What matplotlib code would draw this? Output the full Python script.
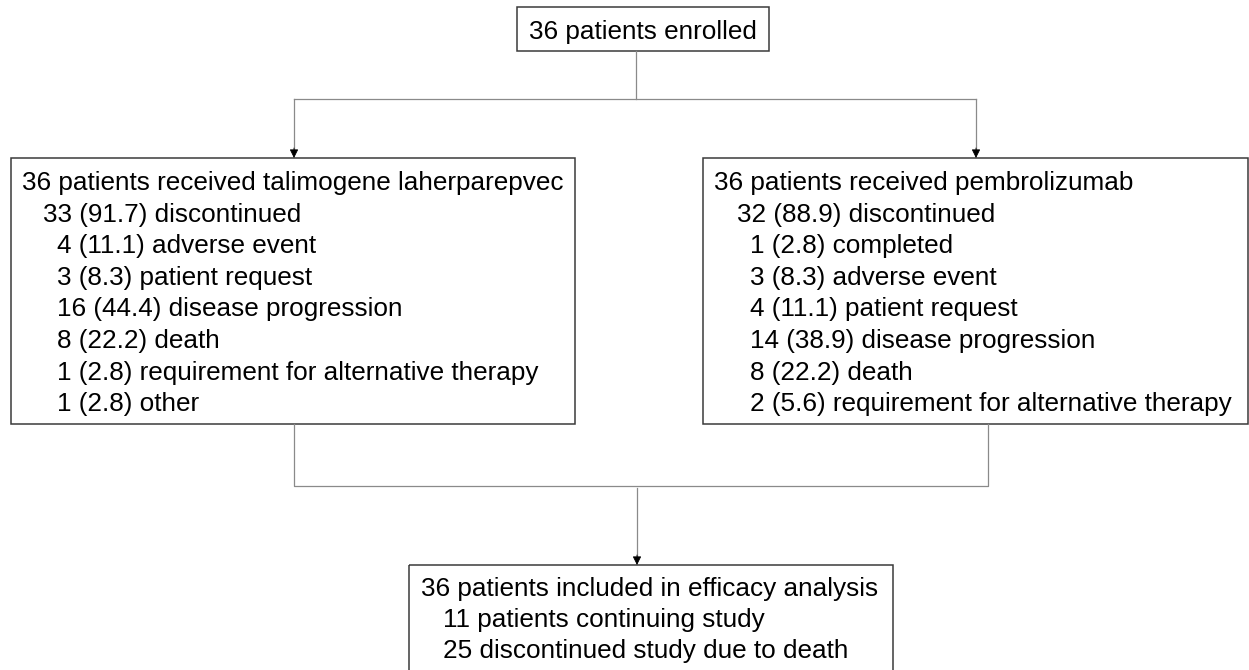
import matplotlib
matplotlib.use("Agg")
import matplotlib.pyplot as plt
from matplotlib.patches import Rectangle

# texte des boites (niveau d'indentation a part)
enrolled_text = "36 patients enrolled"

tvec_lines = [
    "36 patients received talimogene laherparepvec",
    "33 (91.7) discontinued",
    "4 (11.1) adverse event",
    "3 (8.3) patient request",
    "16 (44.4) disease progression",
    "8 (22.2) death",
    "1 (2.8) requirement for alternative therapy",
    "1 (2.8) other",
]
tvec_levels = [0, 1, 2, 2, 2, 2, 2, 2]

pembro_lines = [
    "36 patients received pembrolizumab",
    "32 (88.9) discontinued",
    "1 (2.8) completed",
    "3 (8.3) adverse event",
    "4 (11.1) patient request",
    "14 (38.9) disease progression",
    "8 (22.2) death",
    "2 (5.6) requirement for alternative therapy",
]
pembro_levels = [0, 1, 2, 2, 2, 2, 2, 2]

efficacy_lines = [
    "36 patients included in efficacy analysis",
    "11 patients continuing study",
    "25 discontinued study due to death",
]
efficacy_levels = [0, 1, 1]

plt.rcParams["font.family"] = ["Liberation Sans", "DejaVu Sans"]
FS = 18.8
BOX_COL = "#3a3a3a"
LINE_COL = "#8a8a8a"

fig = plt.figure(figsize=(12.49, 6.70), dpi=100)
ax = fig.add_axes([0, 0, 1, 1])
ax.set_xlim(0, 1249)
ax.set_ylim(670, 0)
ax.axis("off")


def boite(x0, y0, x1, y1):
    ax.add_patch(Rectangle((x0, y0), x1 - x0, y1 - y0, fill=False,
                           edgecolor=BOX_COL, linewidth=1.1, clip_on=True))


def texte(lines, levels, x0, y_base, step, indents):
    for i, (s, lv) in enumerate(zip(lines, levels)):
        ax.text(x0 + indents[lv], y_base + i * step, s, fontsize=FS,
                va="baseline", ha="left", color="black")


def fleche(x, y0, y1):
    ax.plot([x, x], [y0, y1 - 8], color=LINE_COL, lw=0.9)
    ax.annotate("", xy=(x, y1), xytext=(x, y1 - 10),
                arrowprops=dict(arrowstyle="-|>", color="black", lw=0.6,
                                mutation_scale=13, shrinkA=0, shrinkB=0))


# boite du haut
boite(517, 7, 769, 51)
ax.text(643, 39, enrolled_text, fontsize=FS, ha="center", va="baseline")

# deux bras
boite(11, 158, 575, 424)
texte(tvec_lines, tvec_levels, 22, 190, 31.6, [0, 21, 35])

boite(703, 158, 1248, 424)
texte(pembro_lines, pembro_levels, 714, 190, 31.6, [0, 23, 36])

# boite du bas (coupee en bas)
boite(409, 565, 893, 690)
texte(efficacy_lines, efficacy_levels, 421, 596, 31.2, [0, 22])

# connecteurs du haut
ax.plot([636, 636], [51, 99], color=LINE_COL, lw=0.9)
ax.plot([294, 976], [99, 99], color=LINE_COL, lw=0.9)
fleche(294, 99, 158)
fleche(976, 99, 158)

# connecteurs du bas
ax.plot([294, 294, 988, 988], [424, 486, 486, 424], color=LINE_COL, lw=0.9)
fleche(637, 488, 565)

plt.savefig("out.png", dpi=100)
